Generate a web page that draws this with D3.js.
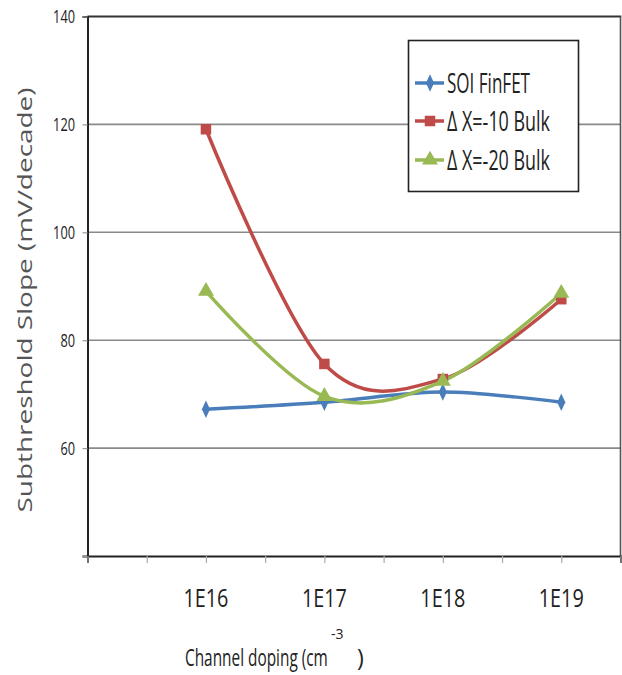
<!DOCTYPE html>
<html><head><meta charset="utf-8">
<script src="https://cdn.jsdelivr.net/npm/d3@7"></script>
<style>body{margin:0;background:#fff}svg{display:block}</style>
</head><body>
<script>
const categories = ["1E16","1E17","1E18","1E19"];
const categoryX = [2,4,6,8];
const seriesNames = ["SOI FinFET","\u0394 X=-10 Bulk","\u0394 X=-20 Bulk"];
const soiFinFET = [67.2, 68.5, 70.4, 68.5];
const bulk10 = [119.1, 75.6, 72.8, 87.6];
const bulk20 = [89.1, 69.6, 72.4, 88.7];
const yTicks = [60, 80, 100, 120, 140];
const colors = ["#4A7EBB", "#BE4B48", "#98B954"];

const W = 622, H = 675;
const svg = d3.select("body").append("svg").attr("width", W).attr("height", H);
const x = d3.scaleLinear().domain([0, 9]).range([87.5, 620.5]);
const y = d3.scaleLinear().domain([40, 140]).range([556, 16.5]);
const FONT = "Open Sans, sans-serif";

// gridlines
svg.append("g").selectAll("line").data(yTicks.filter(t => t < 140)).join("line")
  .attr("x1", x(0)).attr("x2", x(9)).attr("y1", d => y(d)).attr("y2", d => y(d))
  .attr("stroke", "#8a8a8a").attr("stroke-width", 1.6);
// frame top & right
svg.append("line").attr("x1", x(0)).attr("x2", x(9)+0.8).attr("y1", y(140)).attr("y2", y(140))
  .attr("stroke", "#333").attr("stroke-width", 1.8);
svg.append("line").attr("x1", x(9)).attr("x2", x(9)).attr("y1", y(140)).attr("y2", y(40))
  .attr("stroke", "#555").attr("stroke-width", 1.6);

// y axis
const yAxis = d3.axisLeft(y).tickValues([40].concat(yTicks)).tickSize(5).tickFormat("");
const gy = svg.append("g").attr("transform", `translate(${x(0)},0)`).call(yAxis);
gy.select(".domain").attr("stroke", "#222").attr("stroke-width", 2);
gy.selectAll(".tick line").attr("stroke", "#999").attr("stroke-width", 1.2);
svg.append("g").selectAll("text").data(yTicks).join("text")
  .attr("x", 75).attr("y", d => y(d)).attr("dy", "0.36em").attr("text-anchor", "end")
  .attr("font-family", FONT).attr("font-size", 18).attr("fill", "#222")
  .attr("textLength", d => String(d).length * 7.3).attr("lengthAdjust", "spacingAndGlyphs")
  .text(d => d);

// x axis
const xAxis = d3.axisBottom(x).ticks(9).tickSize(7).tickFormat("");
const gx = svg.append("g").attr("transform", `translate(0,${y(40)})`).call(xAxis);
gx.select(".domain").attr("stroke", "#222").attr("stroke-width", 2);
gx.selectAll(".tick line").attr("stroke", "#aaa").attr("stroke-width", 1.2);
svg.append("g").selectAll("text").data(categories).join("text")
  .attr("x", (d, i) => x(categoryX[i])).attr("y", 607).attr("text-anchor", "middle")
  .attr("font-family", FONT).attr("font-size", 26).attr("fill", "#222")
  .attr("textLength", 45).attr("lengthAdjust", "spacingAndGlyphs")
  .text(d => d);

// x axis title (condensed via horizontal scale)
const xtG = svg.append("g");
const xtMain = xtG.append("text").attr("x", 0).attr("y", 0)
  .attr("font-family", FONT).attr("font-size", 23).attr("fill", "#222").text("Channel doping (cm");
const natW = xtMain.node().getComputedTextLength();
const sx = 143 / natW;
xtMain.attr("transform", `translate(185,666) scale(${sx},1)`);
xtG.append("text").attr("x", 331).attr("y", 639)
  .attr("font-family", FONT).attr("font-size", 14).attr("fill", "#222").text("-3");
xtG.append("text").attr("x", 357).attr("y", 666)
  .attr("font-family", FONT).attr("font-size", 23).attr("fill", "#222").text(")");

// y axis title
svg.append("text").attr("transform", "translate(32,300) rotate(-90)").attr("text-anchor", "middle")
  .attr("font-family", FONT).attr("font-size", 20).attr("fill", "#555")
  .attr("textLength", 425).attr("lengthAdjust", "spacingAndGlyphs")
  .text("Subthreshold Slope (mV/decade)");

// series
const allSeries = [soiFinFET, bulk10, bulk20];
const line = d3.line().x((d, i) => x(categoryX[i])).y(d => y(d)).curve(d3.curveCardinal.tension(0));
const symbols = [d3.symbolDiamond, d3.symbolSquare, d3.symbolTriangle];
const symSizes = [90, 110, 110];
allSeries.forEach((s, k) => {
  svg.append("path").datum(s).attr("d", line).attr("fill", "none")
    .attr("stroke", colors[k]).attr("stroke-width", 3.5).attr("stroke-linejoin", "round");
});
allSeries.forEach((s, k) => {
  svg.append("g").selectAll("path").data(s).join("path")
    .attr("transform", (d, i) => `translate(${x(categoryX[i])},${y(d)})${k===0?" scale(0.8,1)":""}`)
    .attr("d", d3.symbol().type(symbols[k]).size(symSizes[k]))
    .attr("fill", colors[k]);
});

// legend
const lg = svg.append("g");
lg.append("rect").attr("x", 408.5).attr("y", 40.5).attr("width", 170).attr("height", 151)
  .attr("fill", "#fff").attr("stroke", "#222").attr("stroke-width", 1.6);
const rowY = [83, 121, 160];
seriesNames.forEach((n, k) => {
  lg.append("line").attr("x1", 415).attr("x2", 444).attr("y1", rowY[k]).attr("y2", rowY[k])
    .attr("stroke", colors[k]).attr("stroke-width", 3.5);
  lg.append("path").attr("transform", `translate(430,${rowY[k]})${k===0?" scale(0.8,1)":""}`)
    .attr("d", d3.symbol().type(symbols[k]).size(symSizes[k])).attr("fill", colors[k]);
  lg.append("text").attr("x", 447).attr("y", rowY[k] + 10)
    .attr("font-family", FONT).attr("font-size", 28).attr("fill", "#222")
    .attr("textLength", k === 0 ? 83 : 103).attr("lengthAdjust", "spacingAndGlyphs")
    .text(n);
});
</script>
</body></html>
